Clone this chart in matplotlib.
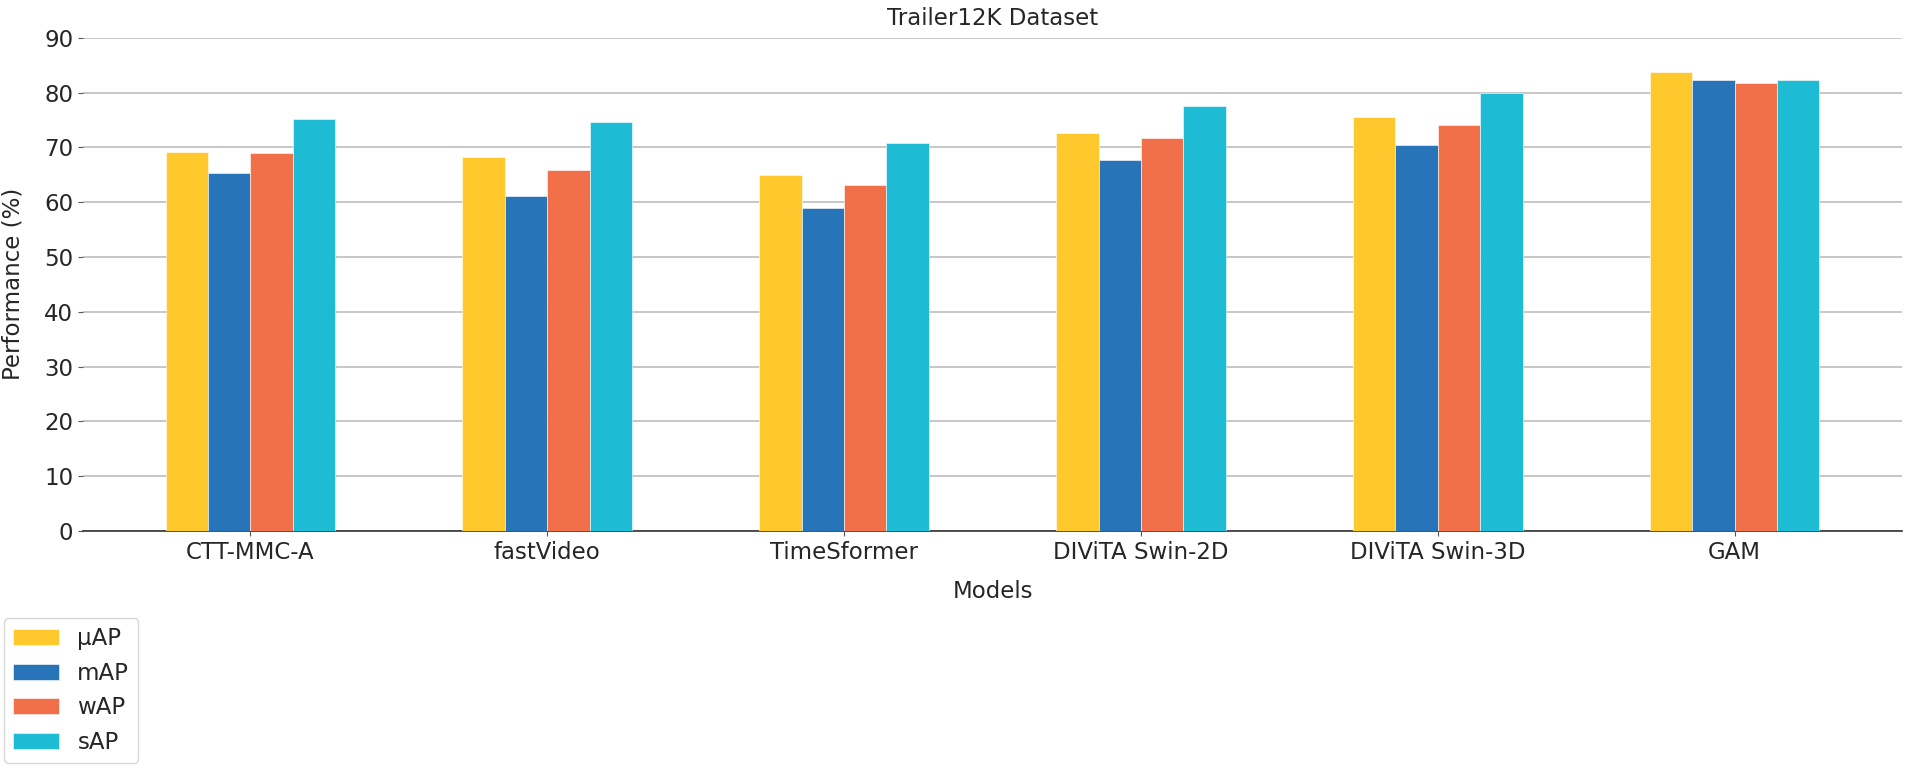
import numpy as np
import matplotlib
matplotlib.use("Agg")
import matplotlib.pyplot as plt

models = ["CTT-MMC-A", "fastVideo", "TimeSformer", "DIViTA Swin-2D", "DIViTA Swin-3D", "GAM"]
metrics = ["µAP", "mAP", "wAP", "sAP"]
u_ap = [69.2, 68.2, 64.9, 72.6, 75.5, 83.7]
m_ap = [65.4, 61.1, 59.0, 67.6, 70.5, 82.2]
w_ap = [68.9, 65.9, 63.2, 71.7, 74.1, 81.7]
s_ap = [75.1, 74.6, 70.7, 77.5, 80.0, 82.2]
yticks = [0, 10, 20, 30, 40, 50, 60, 70, 80, 90]

colors = ["#FFC82C", "#2775B8", "#F27049", "#1EBCD4"]
series = [u_ap, m_ap, w_ap, s_ap]

W, H = 1905, 769
fig = plt.figure(figsize=(W / 100, H / 100), dpi=100)
ax = fig.add_axes([83 / W, 1 - 531 / H, (1902 - 83) / W, (531 - 37.7) / H])

fs = 16.5
tc = "#262626"
x = np.arange(len(models))
bw = 1 / 7
for i, (vals, c, lab) in enumerate(zip(series, colors, metrics)):
    ax.bar(x + (i - 1.5) * bw, vals, width=bw, color=c, label=lab,
           edgecolor="white", linewidth=0.4, zorder=3)

ax.set_ylim(0, 90)
ax.set_yticks(yticks)
ax.set_xticks(x)
ax.set_xticklabels(models, fontsize=fs, color=tc)
ax.tick_params(axis="y", labelsize=fs, labelcolor=tc, color="#555555")
ax.tick_params(axis="x", color="#555555")
ax.margins(x=0.05)
ax.yaxis.grid(True, color="#bdbdbd", linewidth=1.2, zorder=0)
ax.set_axisbelow(True)
for s in ["top", "right", "left"]:
    ax.spines[s].set_visible(False)
ax.spines["bottom"].set_color("#333333")
ax.spines["bottom"].set_linewidth(1.2)

ax.set_title("Trailer12K Dataset", fontsize=fs, color=tc, pad=9)
ax.set_xlabel("Models", fontsize=fs, color=tc, labelpad=12)
ax.set_ylabel("Performance (%)", fontsize=fs, color=tc, labelpad=14)

leg = fig.legend(loc="upper left", bbox_to_anchor=(4 / W, 1 - 618 / H),
                 bbox_transform=fig.transFigure, borderaxespad=0,
                 fontsize=fs, frameon=True)
for t in leg.get_texts():
    t.set_color(tc)

fig.savefig("out.png", dpi=100)
